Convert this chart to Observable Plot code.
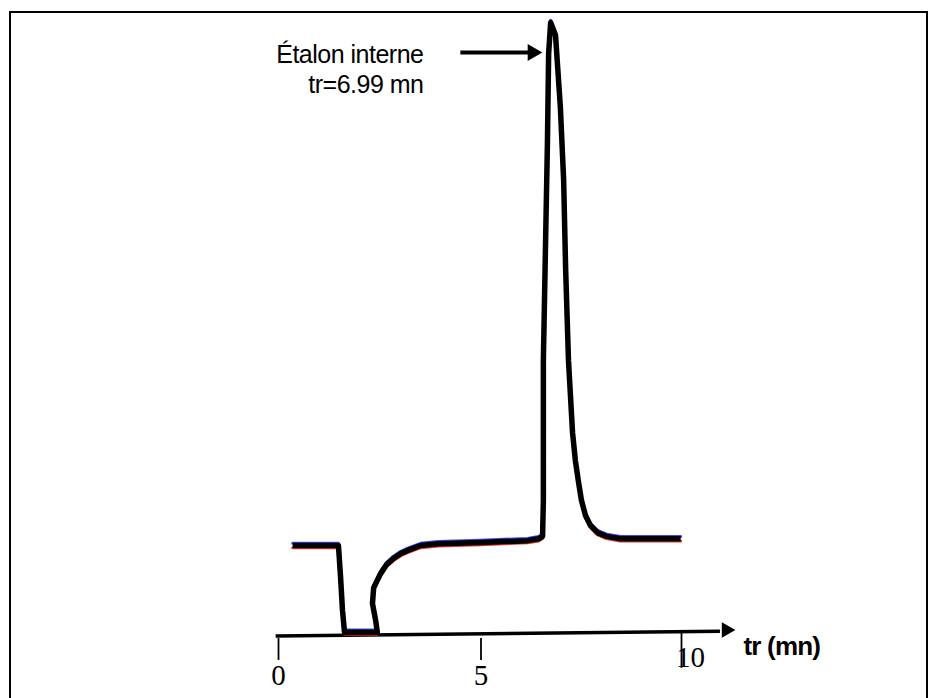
<!DOCTYPE html>
<html><head><meta charset="utf-8">
<script src="https://cdn.jsdelivr.net/npm/d3@7"></script>
<script src="https://cdn.jsdelivr.net/npm/@observablehq/plot@0.6"></script>
<style>
html,body{margin:0;padding:0;background:#fff;overflow:hidden;}
#wrap{position:relative;width:928px;height:698px;overflow:hidden;}
#wrap svg{position:absolute;left:0;top:0;}
#frame{position:absolute;left:9px;top:11px;width:919px;height:720px;box-sizing:border-box;border-top:2px solid #000;border-left:2px solid #000;border-right:2px solid #000;pointer-events:none;}
</style></head>
<body><div id="wrap"><div id="frame"></div></div>
<script>
// Chromatogram trace (time in minutes, signal in arbitrary units, peak = 100)
const timeMin = [0.35, 1.48, 1.53, 1.58, 1.63, 2.44, 2.40, 2.32, 2.35, 2.52, 2.67, 2.84, 3.02, 3.19, 3.51, 3.95, 4.99, 6.15, 6.42, 6.52, 6.54, 6.54, 6.54, 6.59, 6.64, 6.67, 6.72, 6.84, 6.96, 7.04, 7.09, 7.16, 7.26, 7.33, 7.41, 7.48, 7.58, 7.70, 7.88, 8.10, 8.44, 8.94, 9.93];
const signal  = [14.4, 14.4, 9.5, 3.8, 0.2, 0.2, 2.1, 4.9, 7.5, 9.8, 11.3, 12.3, 13.1, 13.6, 14.4, 14.7, 14.9, 15.2, 15.5, 15.9, 21.8, 27.0, 44.7, 62.5, 80.2, 94.9, 100, 97.9, 86.1, 74.3, 59.6, 44.7, 32.9, 28.3, 24.7, 21.8, 19.3, 17.7, 16.5, 15.9, 15.5, 15.5, 15.5];
const tickValues = [0, 5, 10];
const tickLabels = ["0", "5", "10"];
const annotationLines = ["Étalon interne", "tr=6.99 mn"];
const axisTitle = "tr (mn)";

const series = timeMin.map((t, i) => ({t, s: signal[i]}));
const label = d => tickLabels[tickValues.indexOf(d)];

const chart = Plot.plot({
  width: 928, height: 698,
  marginLeft: 278, marginRight: 245, marginTop: 22, marginBottom: 65,
  x: {domain: [0, 10], axis: null},
  y: {domain: [0, 100], axis: null},
  style: {background: "transparent", overflow: "visible"},
  marks: [
    // x axis line with arrow
    Plot.link([0], {x1: -0.07, y1: -0.4, x2: 10.9, y2: 0.35, stroke: "black", strokeWidth: 3.5}),
    Plot.dot([0], {x: 11.28, y: 0.57, symbol: "triangle", rotate: 90, r: 5.8, fill: "black", stroke: "none", dx: -9}),
    Plot.ruleX(tickValues.filter(v => v < 10), {x: d => d, y1: -0.8, y2: -4.4, stroke: "black", strokeWidth: 1.8}),
    Plot.ruleX(tickValues.filter(v => v >= 10), {x: d => d, y1: 0, y2: -5.7, stroke: "black", strokeWidth: 1.8, dx: -2}),
    Plot.text(tickValues.filter(v => v < 10), {x: d => d, y: -8.5, text: label, lineAnchor: "bottom", fontFamily: "Liberation Serif", fontSize: 29, fill: "black"}),
    Plot.text(tickValues.filter(v => v >= 10), {x: d => d, y: -5.56, dx: 7, text: label, lineAnchor: "bottom", fontFamily: "Liberation Serif", fontSize: 29, fill: "black"}),
    Plot.text([axisTitle], {x: 11.48, y: -3.6, text: d => d, textAnchor: "start", lineAnchor: "bottom", fontFamily: "Liberation Sans", fontWeight: "bold", fontSize: 26, fill: "black"}),
    // trace with scan colour fringes
    Plot.line(series, {x: "t", y: "s", stroke: "#1f1fff", strokeWidth: 3, dy: -2.2, strokeOpacity: 0.85, strokeLinejoin: "round"}),
    Plot.line(series, {x: "t", y: "s", stroke: "#e01010", strokeWidth: 3, dy: 2.2, strokeOpacity: 0.85, strokeLinejoin: "round"}),
    Plot.line(series, {x: "t", y: "s", stroke: "black", strokeWidth: 5.5, strokeLinejoin: "round", strokeLinecap: "butt"}),
    // annotation
    Plot.text([annotationLines.join("\n")], {x: 3.58, y: 88.5, text: d => d, textAnchor: "end", lineAnchor: "bottom", lineHeight: 1.2, fontFamily: "Liberation Sans", fontSize: 25, fill: "black"}),
    Plot.link([0], {x1: 4.49, y1: 95.1, x2: 6.3, y2: 95.1, stroke: "black", strokeWidth: 4}),
    Plot.dot([0], {x: 6.52, y: 95.1, symbol: "triangle", rotate: 90, r: 6.3, fill: "black", stroke: "none", dx: -10})
  ]
});

d3.select(chart).selectAll("text").each(function() {
  const t = this.textContent;
  if (t.startsWith("Étalon")) this.style.letterSpacing = "-0.5px";
  if (t.startsWith("tr (")) this.style.letterSpacing = "-0.8px";
});
document.getElementById("wrap").insertBefore(chart, document.getElementById("frame"));
</script>
</body></html>
